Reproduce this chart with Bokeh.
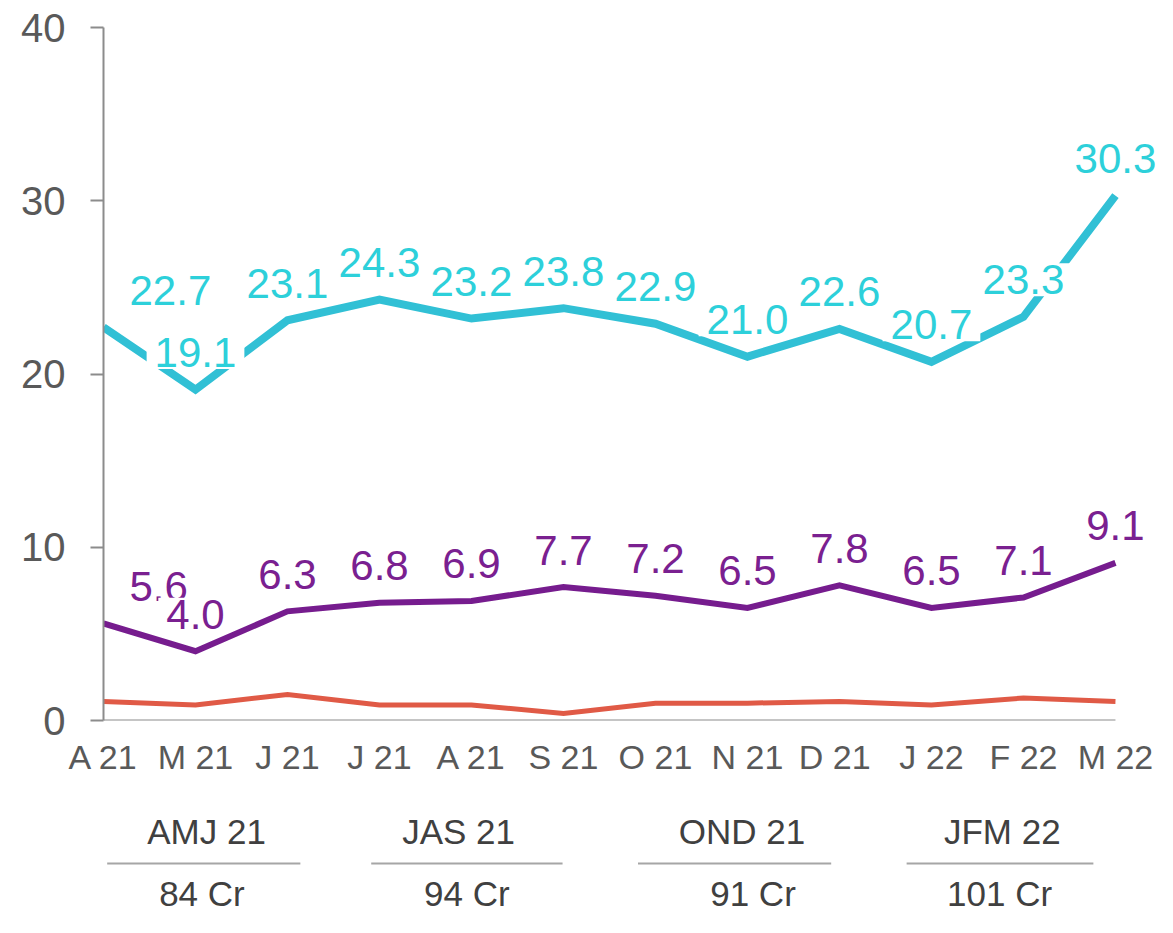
from bokeh.plotting import figure
from bokeh.models import ColumnDataSource, FixedTicker, Range1d
from bokeh.layouts import column
from bokeh.embed import file_html
from bokeh.resources import INLINE
from bokeh.core.properties import value

# ---------------- data ----------------
months = ["A 21", "M 21", "J 21", "J 21", "A 21", "S 21", "O 21", "N 21", "D  21", "J 22", "F 22", "M 22"]
series_top = [22.7, 19.1, 23.1, 24.3, 23.2, 23.8, 22.9, 21.0, 22.6, 20.7, 23.3, 30.3]
series_mid = [5.6, 4.0, 6.3, 6.8, 6.9, 7.7, 7.2, 6.5, 7.8, 6.5, 7.1, 9.1]
series_low = [1.1, 0.9, 1.5, 0.9, 0.9, 0.4, 1.0, 1.0, 1.1, 0.9, 1.3, 1.1]
quarters = ["AMJ 21", "JAS 21", "OND 21", "JFM 22"]
quarter_totals = ["84 Cr", "94 Cr", "91 Cr", "101 Cr"]
y_ticks = [0, 10, 20, 30, 40]

# ---------------- layout / style ----------------
FONT = "Liberation Sans"
CYAN_LINE = "#31C0D5"
CYAN_TEXT = "#2DD0DA"
PURPLE_LINE = "#761C8E"
PURPLE_TEXT = "#7A2090"
RED_LINE = "#E05A46"
AXIS_GRAY = "#8C8C8C"
TICK_TEXT = "#595959"
GROUP_TEXT = "#404040"

W = 1157
LEFT = 103
x_idx = list(range(len(months)))
x_range = Range1d(0, 11.457)

# first label in each series sits to the right of its point
label_align = ["left"] + ["center"] * (len(months) - 1)
label_xoff = [18] + [0] * (len(months) - 1)

p = figure(width=W, height=790, output_backend="svg", toolbar_location=None,
           x_range=x_range, y_range=Range1d(0, 40),
           min_border_left=LEFT, min_border_right=0, min_border_top=27, min_border_bottom=70)
p.outline_line_color = None
p.grid.visible = False
p.background_fill_color = "white"

# axes
p.yaxis.ticker = FixedTicker(ticks=y_ticks)
p.yaxis.axis_line_color = AXIS_GRAY
p.yaxis.axis_line_width = 2
p.yaxis.major_tick_line_color = AXIS_GRAY
p.yaxis.major_tick_line_width = 2
p.yaxis.major_tick_in = 0
p.yaxis.major_tick_out = 13
p.yaxis.minor_tick_line_color = None
p.yaxis.major_label_standoff = 25
p.yaxis.major_label_text_font = FONT
p.yaxis.major_label_text_font_size = "40px"
p.yaxis.major_label_text_color = TICK_TEXT

p.xaxis.ticker = FixedTicker(ticks=x_idx)
p.xaxis.major_label_overrides = {i: m for i, m in enumerate(months)}
p.xaxis.axis_line_color = None
p.xaxis.major_tick_line_color = None
p.xaxis.minor_tick_line_color = None
p.xaxis.major_tick_in = 0
p.xaxis.major_tick_out = 0
p.xaxis.major_label_standoff = 17
p.xaxis.major_label_text_font = FONT
p.xaxis.major_label_text_font_size = "34px"
p.xaxis.major_label_text_color = TICK_TEXT

# x axis line only across the month span
p.segment(x0=[x_idx[0]], y0=[0], x1=[x_idx[-1]], y1=[0], line_color=AXIS_GRAY, line_width=2)

src = ColumnDataSource(dict(x=x_idx, top=series_top, mid=series_mid, low=series_low,
                            top_txt=[f"{v:.1f}" for v in series_top],
                            mid_txt=[f"{v:.1f}" for v in series_mid],
                            align=label_align, xoff=label_xoff))

p.line("x", "low", source=src, line_color=RED_LINE, line_width=5, line_join="miter")
p.line("x", "mid", source=src, line_color=PURPLE_LINE, line_width=6, line_join="miter")
p.line("x", "top", source=src, line_color=CYAN_LINE, line_width=8, line_join="miter")

pad = dict(left=8, right=8, top=2, bottom=2)
p.text("x", "mid", text="mid_txt", source=src, text_align="align", x_offset="xoff", y_offset=-37,
       text_baseline="alphabetic", text_font=value(FONT), text_font_size="42px",
       text_color=PURPLE_TEXT, background_fill_color="white", padding=pad)
p.text("x", "top", text="top_txt", source=src, text_align="align", x_offset="xoff", y_offset=-37,
       text_baseline="alphabetic", text_font=value(FONT), text_font_size="42px",
       text_color=CYAN_TEXT, background_fill_color="white", padding=pad)

# ---------------- quarter panel ----------------
q_title_x = [1.12, 3.86, 6.94, 9.77]
q_total_x = [1.07, 3.95, 7.06, 9.74]
q_line_x0 = [0.04, 2.91, 5.81, 8.73]
q_line_x1 = [2.14, 4.99, 7.91, 10.76]

p2 = figure(width=W, height=127, output_backend="svg", toolbar_location=None,
            x_range=x_range, y_range=Range1d(0, 127),
            min_border_left=LEFT, min_border_right=0, min_border_top=0, min_border_bottom=0)
p2.outline_line_color = None
p2.grid.visible = False
p2.axis.visible = False

p2.text(x=q_title_x, y=[86] * 4, text=quarters, text_align="center", text_baseline="alphabetic",
        text_font=value(FONT), text_font_size="35px", text_color=GROUP_TEXT)
p2.segment(x0=q_line_x0, y0=[54] * 4, x1=q_line_x1, y1=[54] * 4, line_color="#A6A6A6", line_width=2)
p2.text(x=q_total_x, y=[24] * 4, text=quarter_totals, text_align="center", text_baseline="alphabetic",
        text_font=value(FONT), text_font_size="35px", text_color=GROUP_TEXT)

layout = column(p, p2, spacing=0)
open("out.html", "w").write(file_html(layout, INLINE))
